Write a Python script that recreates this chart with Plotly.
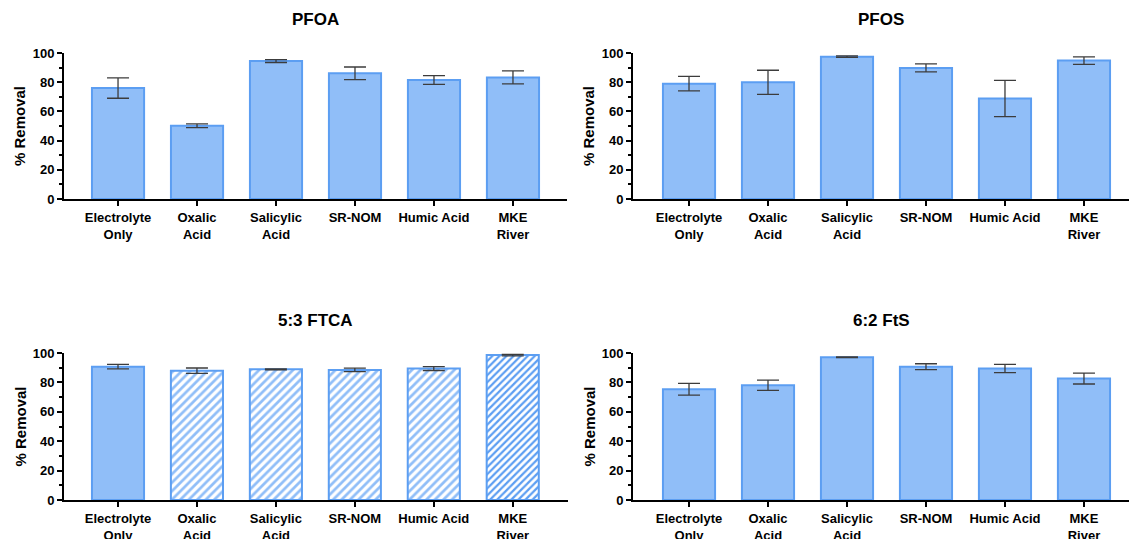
import plotly.graph_objects as go

# ---------------- data ----------------
categories = ["Electrolyte<br>Only", "Oxalic<br>Acid", "Salicylic<br>Acid",
              "SR-NOM", "Humic Acid", "MKE<br>River"]

pfoa_vals = [76.0, 50.2, 94.5, 86.1, 81.5, 83.3]
pfoa_err = [7.0, 1.3, 1.0, 4.3, 3.0, 4.5]

pfos_vals = [79.0, 79.9, 97.5, 89.8, 68.8, 94.8]
pfos_err = [5.0, 8.3, 0.5, 2.7, 12.4, 2.6]

ftca_vals = [90.7, 88.0, 88.9, 88.5, 89.4, 98.6]
ftca_err = [1.5, 1.8, 0.3, 1.2, 1.3, 0.5]

fts_vals = [75.3, 78.1, 97.1, 90.7, 89.4, 82.6]
fts_err = [4.0, 3.5, 0.3, 2.0, 2.8, 3.7]

panel_titles = ["PFOA", "PFOS", "5:3 FTCA", "6:2 FtS"]
y_title = "% Removal"
y_ticks = [0, 20, 40, 60, 80, 100]

# ---------------- style ----------------
W, H = 1129, 539
FONT = "Liberation Sans, Arial, Helvetica, sans-serif"
FILL = "#90BEF8"
EDGE = "#5C9EF2"
DARK_HATCH = "#5C9EF2"
ERR = "#3c3c3c"

def px_x(p):
    return p / W

def px_y(p):
    return 1 - p / H

# panel geometry (pixels): x0, x1, ytop, ybottom
panels = [
    (64, 567, 53, 199),
    (633, 1129, 53, 199),
    (64, 568, 353, 500),
    (633, 1129, 353, 500),
]
xranges = [[-0.684, 5.684], [-0.709, 5.57], [-0.684, 5.70], [-0.709, 5.57]]

series = [(pfoa_vals, pfoa_err), (pfos_vals, pfos_err),
          (ftca_vals, ftca_err), (fts_vals, fts_err)]

tickfont = dict(family=FONT, size=13, color="black", weight="bold")

fig = go.Figure()

for i, ((vals, errs), (x0, x1, yt, yb)) in enumerate(zip(series, panels)):
    n = i + 1
    xa = "x" if n == 1 else f"x{n}"
    ya = "y" if n == 1 else f"y{n}"
    marker = dict(color=FILL, line=dict(color=EDGE, width=2))
    if i == 2:
        marker = dict(
            color=FILL,
            line=dict(color=EDGE, width=2),
            pattern=dict(
                shape=["", "/", "/", "/", "/", "/"],
                fgcolor=[FILL, FILL, FILL, FILL, FILL, DARK_HATCH],
                bgcolor=[FILL, "white", "white", "white", "white", "white"],
                size=[6, 6, 6, 6, 6, 5],
                solidity=[0.5, 0.45, 0.45, 0.45, 0.45, 0.45],
                fillmode="replace",
            ),
        )
    fig.add_trace(go.Bar(
        x=list(range(len(categories))), y=vals, xaxis=xa, yaxis=ya,
        width=0.66, marker=marker,
        error_y=dict(type="data", array=errs, visible=True,
                     color=ERR, thickness=1.3, width=11),
        showlegend=False,
    ))

    axis_common = dict(showline=True, linecolor="black", linewidth=2,
                       showgrid=False, zeroline=False, ticks="outside",
                       tickcolor="black", tickwidth=2, ticklen=5,
                       automargin=False, tickfont=tickfont)
    xkey = "xaxis" if n == 1 else f"xaxis{n}"
    ykey = "yaxis" if n == 1 else f"yaxis{n}"
    fig.update_layout(**{
        xkey: dict(domain=[px_x(x0), px_x(x1)], anchor=ya,
                   range=xranges[i], tickmode="array",
                   tickvals=list(range(len(categories))),
                   ticktext=categories, **axis_common),
        ykey: dict(domain=[px_y(yb), px_y(yt)], anchor=xa,
                   range=[0, 100], tickmode="array", tickvals=y_ticks,
                   minor=dict(dtick=10, ticks="outside", ticklen=3,
                              tickwidth=1.5, tickcolor="black"),
                   **axis_common),
    })

    # panel title
    fig.add_annotation(text=f"<b>{panel_titles[i]}</b>", xref="paper", yref="paper",
                       x=px_x((x0 + min(x1, x0 + 503)) / 2), y=px_y(yt - 33),
                       showarrow=False, font=dict(family=FONT, size=17, color="black"),
                       xanchor="center", yanchor="middle")
    # y-axis title
    fig.add_annotation(text=f"<b>{y_title}</b>", xref="paper", yref="paper",
                       x=px_x(x0 - 44), y=px_y((yt + yb) / 2), textangle=-90,
                       showarrow=False, font=dict(family=FONT, size=15, color="black"),
                       xanchor="center", yanchor="middle")

fig.update_layout(
    width=W, height=H, margin=dict(l=0, r=0, t=0, b=0, autoexpand=False),
    paper_bgcolor="white", plot_bgcolor="white",
    font=dict(family=FONT, color="black"),
)

fig.write_html("out.html")
